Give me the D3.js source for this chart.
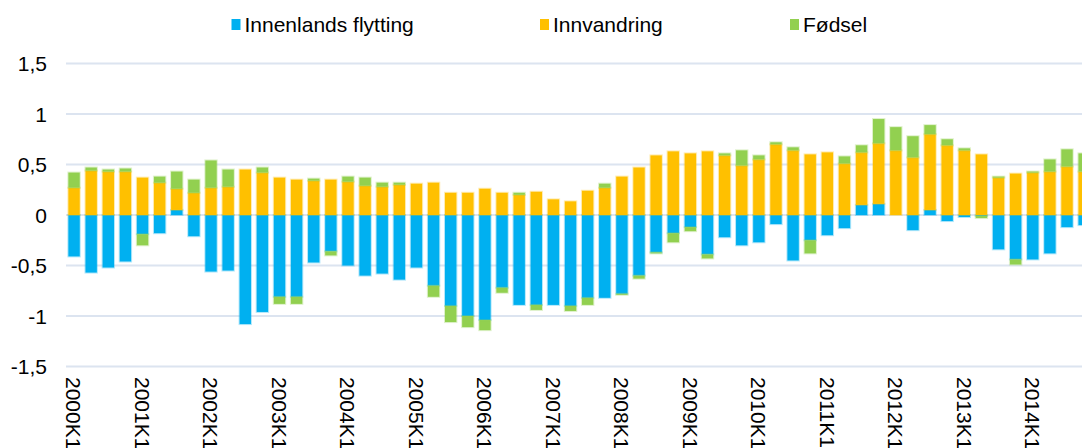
<!DOCTYPE html>
<html>
<head>
<meta charset="utf-8">
<script src="https://cdn.jsdelivr.net/npm/d3@7"></script>
<style>
  html, body { margin: 0; padding: 0; background: #fff; overflow: hidden; }
  svg { display: block; font-family: "Liberation Sans", Arial, sans-serif; }
</style>
</head>
<body>
<div id="chart"></div>
<script>
// Quarters 2000K1 - 2014K4
const quarters = [
  "2000K1","2000K2","2000K3","2000K4","2001K1","2001K2","2001K3","2001K4",
  "2002K1","2002K2","2002K3","2002K4","2003K1","2003K2","2003K3","2003K4",
  "2004K1","2004K2","2004K3","2004K4","2005K1","2005K2","2005K3","2005K4",
  "2006K1","2006K2","2006K3","2006K4","2007K1","2007K2","2007K3","2007K4",
  "2008K1","2008K2","2008K3","2008K4","2009K1","2009K2","2009K3","2009K4",
  "2010K1","2010K2","2010K3","2010K4","2011K1","2011K2","2011K3","2011K4",
  "2012K1","2012K2","2012K3","2012K4","2013K1","2013K2","2013K3","2013K4",
  "2014K1","2014K2","2014K3","2014K4"
];

const innenlands = [
  -0.41, -0.57, -0.52, -0.46, -0.19, -0.18, 0.05, -0.21,
  -0.56, -0.55, -1.08, -0.96, -0.81, -0.81, -0.47, -0.36,
  -0.50, -0.60, -0.58, -0.64, -0.52, -0.70, -0.90, -1.00,
  -1.04, -0.72, -0.89, -0.89, -0.89, -0.90, -0.82, -0.82,
  -0.78, -0.60, -0.37, -0.18, -0.12, -0.39, -0.22, -0.30,
  -0.27, -0.09, -0.45, -0.25, -0.20, -0.13, 0.10, 0.11,
  0.00, -0.15, 0.05, -0.06, -0.02, -0.01, -0.34, -0.44,
  -0.44, -0.38, -0.12, -0.10
];

const innvandring = [
  0.27, 0.44, 0.43, 0.43, 0.37, 0.32, 0.21, 0.22,
  0.27, 0.28, 0.45, 0.42, 0.37, 0.35, 0.34, 0.35,
  0.33, 0.29, 0.28, 0.30, 0.31, 0.32, 0.22, 0.22,
  0.26, 0.22, 0.20, 0.23, 0.155, 0.135, 0.24, 0.27,
  0.38, 0.47, 0.59, 0.63, 0.61, 0.63, 0.59, 0.49,
  0.55, 0.70, 0.64, 0.60, 0.62, 0.51, 0.52, 0.60,
  0.64, 0.57, 0.75, 0.69, 0.64, 0.60, 0.37, 0.41,
  0.42, 0.43, 0.48, 0.43
];

const fodsel = [
  0.15, 0.03, 0.02, 0.03, -0.11, 0.06, 0.17, 0.13,
  0.27, 0.17, 0.00, 0.05, -0.07, -0.07, 0.02, -0.04,
  0.05, 0.08, 0.04, 0.02, 0.00, -0.11, -0.16, -0.11,
  -0.10, -0.05, 0.02, -0.05, 0.00, -0.05, -0.07, 0.04,
  -0.01, -0.03, -0.01, -0.09, -0.04, -0.04, 0.02, 0.15,
  0.04, 0.02, 0.03, -0.13, 0.00, 0.07, 0.07, 0.24,
  0.23, 0.21, 0.09, 0.06, 0.02, -0.02, 0.01, -0.05,
  0.01, 0.12, 0.17, 0.18
];

const seriesNames = ["Innenlands flytting", "Innvandring", "Fødsel"];
const seriesColors = ["#00B0F0", "#FFC000", "#92D050"];
const yTicks = [-1.5, -1, -0.5, 0, 0.5, 1, 1.5];
const labelEvery = 4;

const width = 1082, height = 448;
const plotLeft = 65.5, step = 17.12;

const rows = quarters.map((q, i) => ({
  q,
  "Innenlands flytting": innenlands[i],
  "Innvandring": innvandring[i],
  "Fødsel": fodsel[i]
}));

const svg = d3.select("#chart").append("svg")
  .attr("width", width)
  .attr("height", height);

const x = d3.scaleBand()
  .domain(quarters)
  .range([plotLeft, plotLeft + step * quarters.length])
  .paddingInner(0.335)
  .paddingOuter(0.1675);

const y = d3.scaleLinear()
  .domain([-1.5, 1.5])
  .range([366.5, 63.5]);

// gridlines
svg.append("g")
  .selectAll("line")
  .data(yTicks)
  .join("line")
  .attr("x1", 66)
  .attr("x2", width)
  .attr("y1", d => y(d))
  .attr("y2", d => y(d))
  .attr("stroke", "#DCE4F0")
  .attr("stroke-width", 2);

// y tick labels
const fmt = d => String(d).replace(".", ",");
svg.append("g")
  .selectAll("text")
  .data(yTicks)
  .join("text")
  .attr("x", 47)
  .attr("y", d => y(d))
  .attr("dy", "0.36em")
  .attr("text-anchor", "end")
  .style("font-size", "21px")
  .style("fill", "#000")
  .text(fmt);

// stacked bars
const stack = d3.stack()
  .keys(seriesNames)
  .offset(d3.stackOffsetDiverging);
const series = stack(rows);

svg.append("g")
  .selectAll("g")
  .data(series)
  .join("g")
  .attr("fill", (d, i) => seriesColors[i])
  .attr("stroke", (d, i) => seriesColors[i])
  .attr("stroke-opacity", 0.3)
  .attr("stroke-width", 2)
  .selectAll("rect")
  .data(d => d.filter(p => p[1] !== p[0]))
  .join("rect")
  .attr("x", d => x(d.data.q))
  .attr("width", x.bandwidth())
  .attr("y", d => y(Math.max(d[0], d[1])))
  .attr("height", d => Math.abs(y(d[0]) - y(d[1])));

// x labels, rotated
svg.append("g")
  .selectAll("text")
  .data(quarters.filter((q, i) => i % labelEvery === 0))
  .join("text")
  .attr("transform", d => `translate(${x(d) + x.bandwidth() / 2},377) rotate(90)`)
  .attr("dy", "0.36em")
  .attr("text-anchor", "start")
  .style("font-size", "21px")
  .style("fill", "#000")
  .text(d => d);

// legend
const legendX = [231.5, 540, 790];
const legend = svg.append("g")
  .selectAll("g")
  .data(seriesNames)
  .join("g")
  .attr("transform", (d, i) => `translate(${legendX[i]},0)`);

legend.append("rect")
  .attr("x", 0)
  .attr("y", 19)
  .attr("width", 9)
  .attr("height", 11)
  .attr("fill", (d, i) => seriesColors[i]);

legend.append("text")
  .attr("x", 13)
  .attr("y", 31.5)
  .style("font-size", "21px")
  .style("fill", "#000")
  .text(d => d);
</script>
</body>
</html>
